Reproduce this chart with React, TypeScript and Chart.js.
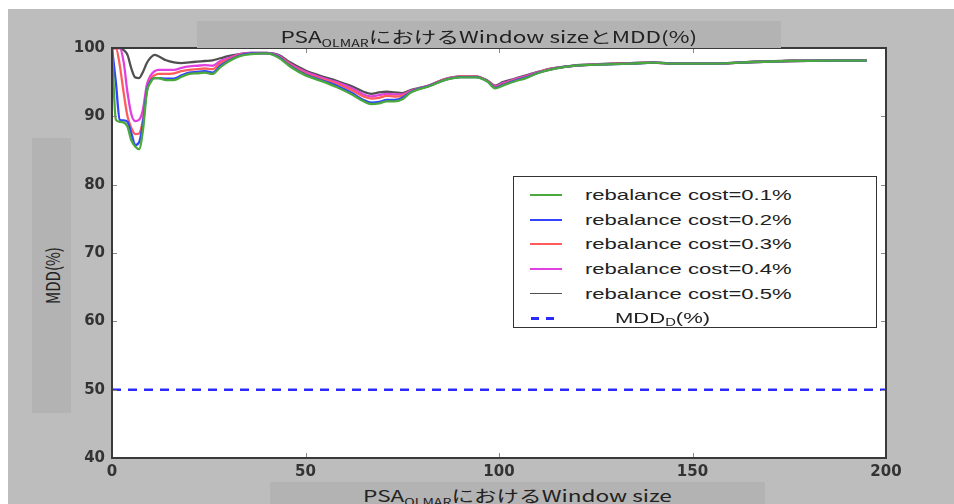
import React, { useEffect, useRef } from "react";
import { Chart, registerables } from "chart.js";

Chart.register(...registerables);

// ---------- data ----------
const windowSizes = [
  0, 1, 2, 3, 4, 5, 6, 7, 8, 9, 10, 11, 12,
  14, 16, 18, 20, 22, 24, 26, 28, 30,
  33, 36, 40, 43, 46, 50, 54, 58, 62,
  65, 67, 69, 71, 73, 75, 77, 79,
  82, 86, 90, 94, 97, 99, 101, 104, 107, 110,
  114, 118, 122, 128, 134, 140, 145, 150, 158, 166, 175, 185, 195,
];

const cost01 = [
  100, 89.5, 89.2, 89.1, 88.5, 86.5, 85.6, 85.2, 88.0, 93.5, 95.0, 95.6, 95.6,
  95.3, 95.3, 95.8, 96.2, 96.3, 96.4, 96.2, 97.2, 98.0,
  98.8, 99.1, 99.2, 98.6, 97.3, 96.0, 95.2, 94.3, 93.2,
  92.2, 91.8, 91.9, 92.2, 92.2, 92.5, 93.4, 93.9,
  94.4, 95.3, 95.7, 95.7, 95.1, 94.1, 94.5, 95.1, 95.6, 96.3,
  96.9, 97.3, 97.5, 97.6, 97.7, 97.85, 97.7, 97.7, 97.75, 97.95, 98.1, 98.15, 98.15,
];

const cost02 = [
  100, 95.0, 89.5, 89.4, 89.2, 87.5, 85.8, 86.2, 89.0, 93.8, 95.2, 95.6, 95.6,
  95.5, 95.5, 96.0, 96.4, 96.5, 96.6, 96.4, 97.4, 98.1,
  98.9, 99.2, 99.2, 98.7, 97.4, 96.1, 95.3, 94.5, 93.4,
  92.4, 92.0, 92.1, 92.4, 92.4, 92.7, 93.5, 94.0,
  94.45, 95.35, 95.75, 95.75, 95.15, 94.2, 94.6, 95.2, 95.7, 96.35,
  96.95, 97.3, 97.5, 97.6, 97.7, 97.85, 97.7, 97.7, 97.75, 97.95, 98.1, 98.15, 98.15,
];

const cost03 = [
  100, 100, 97.5, 93.5, 90.0, 88.3, 87.4, 87.5, 89.5, 93.8, 95.5, 96.0, 96.2,
  96.2, 96.3, 96.6, 96.8, 96.9, 97.0, 96.9, 97.8, 98.3,
  99.0, 99.2, 99.2, 98.8, 97.6, 96.3, 95.5, 94.8, 93.8,
  92.9, 92.6, 92.7, 93.0, 92.9, 93.0, 93.6, 94.0,
  94.5, 95.4, 95.8, 95.8, 95.2, 94.3, 94.7, 95.3, 95.8, 96.4,
  97.0, 97.3, 97.5, 97.65, 97.75, 97.85, 97.7, 97.7, 97.75, 97.95, 98.1, 98.15, 98.15,
];

const cost04 = [
  100, 100, 100, 98.0, 93.5, 90.3, 89.3, 89.5, 91.0, 94.6, 96.0, 96.6, 96.8,
  96.8, 96.8, 97.1, 97.3, 97.4, 97.5, 97.4, 98.1, 98.5,
  99.1, 99.3, 99.3, 98.9, 97.7, 96.5, 95.7, 95.0, 94.1,
  93.2, 92.9, 93.1, 93.3, 93.2, 93.2, 93.7, 94.0,
  94.5, 95.4, 95.8, 95.8, 95.2, 94.4, 94.85, 95.4, 95.9, 96.45,
  97.0, 97.3, 97.5, 97.65, 97.75, 97.85, 97.7, 97.7, 97.75, 97.95, 98.1, 98.15, 98.15,
];

const cost05 = [
  100, 100, 100, 99.7, 99.0, 97.0, 95.7, 95.6, 96.5, 97.8, 98.6, 99.0, 98.8,
  98.2, 97.9, 97.8, 97.9, 98.0, 98.1, 98.2, 98.5, 98.8,
  99.1, 99.3, 99.3, 99.0, 97.9, 96.7, 95.9, 95.2, 94.4,
  93.6, 93.3, 93.5, 93.6, 93.5, 93.4, 93.8, 94.1,
  94.55, 95.45, 95.85, 95.85, 95.25, 94.5, 95.0, 95.5, 96.0, 96.5,
  97.05, 97.35, 97.55, 97.7, 97.8, 97.9, 97.75, 97.75, 97.8, 98.0, 98.15, 98.2, 98.2,
];

const mddD = 50;

const seriesValues = [cost01, cost02, cost03, cost04, cost05];
const seriesLabels = [
  "rebalance cost=0.1%",
  "rebalance cost=0.2%",
  "rebalance cost=0.3%",
  "rebalance cost=0.4%",
  "rebalance cost=0.5%",
];
const seriesColors = ["#4aa83c", "#3344ff", "#ff5c5c", "#e040e0", "#505050"];
const mddColor = "#2a2aff";

const xTickValues = [0, 50, 100, 150, 200];
const yTickValues = [40, 50, 60, 70, 80, 90, 100];

// ---------- plugin: white plot area, inner ticks, frame ----------
const framePlugin = {
  id: "frame",
  beforeDraw(chart: any) {
    const { ctx, chartArea: a } = chart;
    ctx.save();
    ctx.fillStyle = "#ffffff";
    ctx.fillRect(a.left, a.top, a.right - a.left, a.bottom - a.top);
    ctx.restore();
  },
  afterDatasetsDraw(chart: any) {
    const { ctx, chartArea: a, scales } = chart;
    const xs = scales.x;
    const ys = scales.y;
    ctx.save();
    ctx.strokeStyle = "#888";
    ctx.lineWidth = 1;
    const tl = 5;
    xTickValues.slice(1, -1).forEach((v) => {
      const px = Math.round(xs.getPixelForValue(v)) + 0.5;
      ctx.beginPath();
      ctx.moveTo(px, a.top);
      ctx.lineTo(px, a.top + tl);
      ctx.moveTo(px, a.bottom);
      ctx.lineTo(px, a.bottom - tl);
      ctx.stroke();
    });
    yTickValues.slice(1, -1).forEach((v) => {
      const py = Math.round(ys.getPixelForValue(v)) + 0.5;
      ctx.beginPath();
      ctx.moveTo(a.left, py);
      ctx.lineTo(a.left + tl, py);
      ctx.moveTo(a.right, py);
      ctx.lineTo(a.right - tl, py);
      ctx.stroke();
    });
    ctx.strokeStyle = "#3a3a3a";
    ctx.lineWidth = 2;
    ctx.strokeRect(a.left, a.top, a.right - a.left, a.bottom - a.top);
    ctx.restore();
  },
};

const W = 946;
const H = 495;

function ChartCanvas() {
  const ref = useRef<HTMLCanvasElement | null>(null);
  useEffect(() => {
    if (!ref.current) return;
    const datasets: any[] = seriesValues.map((vals, i) => ({
      label: seriesLabels[i],
      data: windowSizes.map((w, j) => ({ x: w, y: vals[j] })),
      borderColor: seriesColors[i],
      backgroundColor: seriesColors[i],
      borderWidth: 2.3,
      pointRadius: 0,
      cubicInterpolationMode: "monotone",
      fill: false,
    }));
    datasets.push({
      label: "MDD_D(%)",
      data: [
        { x: xTickValues[0], y: mddD },
        { x: xTickValues[xTickValues.length - 1], y: mddD },
      ],
      borderColor: mddColor,
      borderWidth: 2.5,
      borderDash: [9, 7],
      pointRadius: 0,
      fill: false,
    });
    const chart = new Chart(ref.current, {
      type: "line",
      data: { datasets },
      options: {
        animation: false,
        responsive: false,
        devicePixelRatio: 1,
        layout: { padding: { top: 39, right: 68, left: 0, bottom: 0 } },
        plugins: {
          legend: { display: false },
          title: { display: false },
          tooltip: { enabled: false },
        },
        scales: {
          x: {
            type: "linear",
            min: 0,
            max: 200,
            grid: { display: false, drawTicks: false },
            border: { display: false },
            ticks: {
              stepSize: 50,
              padding: 5,
              color: "#333",
              font: { family: "DejaVu Sans", size: 15, weight: "bold" },
            },
            afterFit: (s: any) => {
              s.height = 46;
            },
          },
          y: {
            min: 40,
            max: 100,
            grid: { display: false, drawTicks: false },
            border: { display: false },
            ticks: {
              stepSize: 10,
              padding: 7,
              color: "#333",
              font: { family: "DejaVu Sans", size: 15, weight: "bold" },
            },
            afterFit: (s: any) => {
              s.width = 104;
            },
          },
        },
      },
      plugins: [framePlugin],
    } as any);
    return () => chart.destroy();
  }, []);
  return (
    <canvas
      ref={ref}
      width={W}
      height={H}
      style={{ position: "absolute", left: 0, top: 0, width: W, height: H }}
    />
  );
}

const cjkFont = '"Noto Sans CJK JP", "Noto Sans", sans-serif';
const latinFont = '"Liberation Sans", Arial, sans-serif';

function Legend() {
  const rowTops = [18, 43, 67, 92, 117, 141];
  return (
    <div
      style={{
        position: "absolute",
        left: 505,
        top: 167,
        width: 364,
        height: 152,
        boxSizing: "border-box",
        border: "1.5px solid #333",
        background: "#fff",
        zIndex: 3,
      }}
    >
      {seriesLabels.map((lab, i) => (
        <div key={lab} style={{ position: "absolute", left: 0, top: rowTops[i] - 10, height: 20, width: "100%" }}>
          <div
            style={{
              position: "absolute",
              left: 16,
              top: 9,
              width: 32,
              height: i === 4 ? 1 : 2,
              background: seriesColors[i],
            }}
          />
          <span
            style={{
              position: "absolute",
              left: 71,
              top: 0,
              lineHeight: "20px",
              fontFamily: latinFont,
              fontSize: 15,
              color: "#222",
              whiteSpace: "nowrap",
              display: "inline-block",
              transform: "scaleX(1.47)",
              transformOrigin: "left center",
            }}
          >
            {lab}
          </span>
        </div>
      ))}
      <div style={{ position: "absolute", left: 0, top: rowTops[5] - 10, height: 20, width: "100%" }}>
        <div style={{ position: "absolute", left: 17, top: 9, width: 8, height: 3, background: mddColor }} />
        <div style={{ position: "absolute", left: 32, top: 9, width: 8, height: 3, background: mddColor }} />
        <span
          style={{
            position: "absolute",
            left: 101,
            top: 0,
            lineHeight: "20px",
            fontFamily: latinFont,
            fontSize: 15,
            color: "#222",
            whiteSpace: "nowrap",
            display: "inline-block",
            transform: "scaleX(1.47)",
            transformOrigin: "left center",
          }}
        >
          MDD<sub style={{ fontSize: 10, verticalAlign: "-3px" }}>D</sub>(%)
        </span>
      </div>
    </div>
  );
}

function StretchedLabel({ children, size }: { children: any; size: number }) {
  return (
    <span
      style={{
        fontFamily: cjkFont,
        fontSize: size,
        color: "#222",
        whiteSpace: "nowrap",
        display: "inline-block",
        lineHeight: "20px",
        transform: "scaleX(1.41)",
      }}
    >
      {children}
    </span>
  );
}

export default function App() {
  return (
    <div
      style={{
        position: "fixed",
        left: 8,
        top: 9,
        width: W,
        height: H,
        background: "#bdbdbd",
        overflow: "hidden",
      }}
    >
      <ChartCanvas />
      {/* title */}
      <div
        style={{
          position: "absolute",
          left: 189,
          top: 12,
          width: 584,
          height: 27,
          background: "#b3b3b3",
          display: "flex",
          alignItems: "flex-start",
          justifyContent: "center",
          paddingTop: 5,
          boxSizing: "border-box",
          zIndex: 2,
        }}
      >
        <StretchedLabel size={16}>
          PSA<sub style={{ fontSize: 10, verticalAlign: "-4px" }}>OLMAR</sub>におけるWindow sizeとMDD(%)
        </StretchedLabel>
      </div>
      {/* x label */}
      <div
        style={{
          position: "absolute",
          left: 262,
          top: 473,
          width: 495,
          height: 30,
          background: "#b3b3b3",
          display: "flex",
          alignItems: "flex-start",
          justifyContent: "center",
          paddingTop: 3,
          boxSizing: "border-box",
          zIndex: 2,
        }}
      >
        <StretchedLabel size={16}>
          PSA<sub style={{ fontSize: 10, verticalAlign: "-4px" }}>OLMAR</sub>におけるWindow size
        </StretchedLabel>
      </div>
      {/* y label */}
      <div
        style={{
          position: "absolute",
          left: 24,
          top: 129,
          width: 39,
          height: 275,
          background: "#b3b3b3",
          display: "flex",
          alignItems: "center",
          justifyContent: "center",
          zIndex: 2,
        }}
      >
        <span
          style={{
            fontFamily: cjkFont,
            fontSize: 15,
            color: "#222",
            whiteSpace: "nowrap",
            display: "inline-block",
            transform: "rotate(-90deg) scaleY(1.25)",
          }}
        >
          MDD(%)
        </span>
      </div>
      <Legend />
    </div>
  );
}
